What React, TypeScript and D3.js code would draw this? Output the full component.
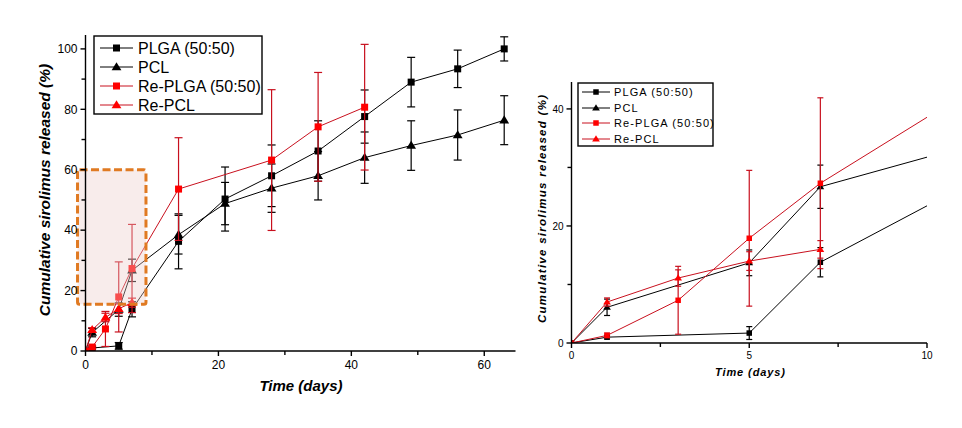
import React from "react";
import * as d3 from "d3";

// ---- data ----
const daysBase = [0, 1, 5, 7, 14, 21, 28, 35, 42, 49, 56, 63];
const plgaValues = [0, 1.0, 1.7, 13.8, 36.3, 50.3, 58.0, 66.2, 77.6, 89.0, 93.4, 100.0];
const plgaErrors = [0, 0.3, 1.1, 2.5, 9.1, 10.6, 10.2, 10.0, 8.8, 8.2, 6.2, 4.0];
const pclValues = [0, 6.1, 13.7, 26.7, 38.5, 48.8, 53.9, 58.0, 64.0, 68.0, 71.5, 76.4];
const pclErrors = [0, 1.4, 2.2, 3.7, 6.4, 7.0, 8.0, 8.0, 8.5, 8.2, 8.3, 8.1];

const daysRePlga = [0, 1, 3, 5, 7, 14, 28, 35, 42];
const rePlgaValues = [0, 1.3, 7.3, 17.9, 27.3, 53.6, 63.2, 74.2, 80.7];
const rePlgaErrors = [0, 0.4, 5.8, 11.6, 14.6, 17.0, 23.3, 18.0, 20.8];

const daysRePcl = [0, 1, 3, 5, 7];
const rePclValues = [0, 7.0, 11.1, 14.0, 16.0];
const rePclErrors = [0, 0.7, 1.4, 1.6, 1.5];

const seriesNames = ["PLGA (50:50)", "PCL", "Re-PLGA (50:50)", "Re-PCL"];

const leftXTicks = [0, 20, 40, 60];
const leftXMinor = [10, 30, 50];
const leftYTicks = [0, 20, 40, 60, 80, 100];
const leftYMinor = [10, 30, 50, 70, 90];
const rightXTicks = [0, 5, 10];
const rightXMinor = [2.5, 7.5];
const rightYTicks = [0, 20, 40];
const rightYMinor = [10, 30];

// highlighted region (days, %)
const zoomBoxDays = [-1.2, 9.1];
const zoomBoxPct = [15.5, 60];

const xTitle = "Time (days)";
const yTitle = "Cumulative sirolimus released (%)";

type Series = { name: string; x: number[]; y: number[]; e: number[]; shape: "square" | "triangle"; red: boolean };
const series: Series[] = [
  { name: seriesNames[0], x: daysBase, y: plgaValues, e: plgaErrors, shape: "square", red: false },
  { name: seriesNames[1], x: daysBase, y: pclValues, e: pclErrors, shape: "triangle", red: false },
  { name: seriesNames[2], x: daysRePlga, y: rePlgaValues, e: rePlgaErrors, shape: "square", red: true },
  { name: seriesNames[3], x: daysRePcl, y: rePclValues, e: rePclErrors, shape: "triangle", red: true },
];

const FONT = "'Liberation Sans', Arial, sans-serif";
const LINE_RED = "#c8101e";
const MARK_RED = "#ff0000";

function Marker({ shape, cx, cy, size, fill }: { shape: string; cx: number; cy: number; size: number; fill: string }) {
  if (shape === "square") {
    return <rect x={cx - size / 2} y={cy - size / 2} width={size} height={size} fill={fill} />;
  }
  const w = size * 1.4;
  const h = size * 1.15;
  const p = `M${cx},${cy - h * 0.6} L${cx + w / 2},${cy + h * 0.4} L${cx - w / 2},${cy + h * 0.4} Z`;
  return <path d={p} fill={fill} />;
}

type PanelCfg = {
  id: string;
  xDomain: [number, number];
  xRange: [number, number];
  yDomain: [number, number];
  yRange: [number, number];
  xTicks: number[];
  xMinor: number[];
  yTicks: number[];
  yMinor: number[];
  tickFont: number;
  markSize: number;
  cap: number;
  legend: { x: number; y: number; w: number; h: number; rows: number[]; lx0: number; lx1: number; tx: number; font: number; ls: number };
  xTitle: { x: number; y: number; font: number; len?: number };
  yTitle: { x: number; y: number; font: number; len?: number };
  box?: boolean;
};

function Panel({ cfg }: { cfg: PanelCfg }) {
  const x = d3.scaleLinear().domain(cfg.xDomain).range(cfg.xRange);
  const y = d3.scaleLinear().domain(cfg.yDomain).range(cfg.yRange);
  const [x0, x1] = cfg.xRange;
  const [y0, y1] = cfg.yRange; // y0 bottom, y1 top
  const line = d3
    .line<[number, number]>()
    .x((d) => x(d[0]))
    .y((d) => y(d[1]));
  const clipId = `clip-${cfg.id}`;
  const tickLen = 5;
  return (
    <g>
      <defs>
        <clipPath id={clipId}>
          <rect x={x0} y={y1} width={x1 - x0} height={y0 - y1} />
        </clipPath>
      </defs>
      {/* data */}
      {series.map((s, si) => {
        const pts: [number, number][] = s.x.map((d, i) => [d, s.y[i]]);
        const lc = s.red ? LINE_RED : "#000";
        const mc = s.red ? MARK_RED : "#000";
        return (
          <g key={si}>
            <g clipPath={`url(#${clipId})`}>
              <path d={line(pts) || ""} fill="none" stroke={lc} strokeWidth={1} />
            </g>
            {s.x.map((d, i) =>
              s.e[i] > 0 && d <= cfg.xDomain[1] ? (
                <g key={i} stroke={lc} strokeWidth={1.2}>
                  <line x1={x(d)} x2={x(d)} y1={y(s.y[i] - s.e[i])} y2={y(s.y[i] + s.e[i])} />
                  <line x1={x(d) - cfg.cap / 2} x2={x(d) + cfg.cap / 2} y1={y(s.y[i] + s.e[i])} y2={y(s.y[i] + s.e[i])} />
                  <line x1={x(d) - cfg.cap / 2} x2={x(d) + cfg.cap / 2} y1={y(s.y[i] - s.e[i])} y2={y(s.y[i] - s.e[i])} />
                </g>
              ) : null
            )}
            <g clipPath={`url(#${clipId})`}>
              {s.x.map((d, i) => (
                <Marker key={i} shape={s.shape} cx={x(d)} cy={y(s.y[i])} size={cfg.markSize} fill={mc} />
              ))}
            </g>
          </g>
        );
      })}
      {/* highlight box */}
      {cfg.box ? (
        <rect
          x={x(zoomBoxDays[0])}
          y={y(zoomBoxPct[1])}
          width={x(zoomBoxDays[1]) - x(zoomBoxDays[0])}
          height={y(zoomBoxPct[0]) - y(zoomBoxPct[1])}
          rx={2}
          fill="rgba(236,205,202,0.38)"
          stroke="#e07a22"
          strokeWidth={3}
          strokeDasharray="8,3.5"
        />
      ) : null}
      {/* axes */}
      <g stroke="#000" strokeWidth={1.4}>
        <line x1={x0} x2={x1} y1={y0} y2={y0} />
        <line x1={x0} x2={x0} y1={y0} y2={y1} />
        {cfg.xTicks.map((t) => (
          <line key={"xt" + t} x1={x(t)} x2={x(t)} y1={y0} y2={y0 + tickLen} />
        ))}
        {cfg.xMinor.map((t) => (
          <line key={"xm" + t} x1={x(t)} x2={x(t)} y1={y0} y2={y0 + tickLen - 1} />
        ))}
        {cfg.yTicks.map((t) => (
          <line key={"yt" + t} x1={x0 - tickLen} x2={x0} y1={y(t)} y2={y(t)} />
        ))}
        {cfg.yMinor.map((t) => (
          <line key={"ym" + t} x1={x0 - tickLen + 1} x2={x0} y1={y(t)} y2={y(t)} />
        ))}
      </g>
      <g fontFamily={FONT} fontSize={cfg.tickFont} fill="#000">
        {cfg.xTicks.map((t) => (
          <text key={"xl" + t} x={x(t)} y={y0 + tickLen + cfg.tickFont + 1} textAnchor="middle">
            {t}
          </text>
        ))}
        {cfg.yTicks.map((t) => (
          <text key={"yl" + t} x={x0 - tickLen - 3} y={y(t) + cfg.tickFont * 0.36} textAnchor="end">
            {t}
          </text>
        ))}
      </g>
      {/* titles */}
      <text
        x={cfg.xTitle.x}
        y={cfg.xTitle.y}
        textAnchor="middle"
        fontFamily={FONT}
        fontWeight="bold"
        fontStyle="italic"
        fontSize={cfg.xTitle.font}
        textLength={cfg.xTitle.len}
        lengthAdjust="spacing"
      >
        {xTitle}
      </text>
      <text
        transform={`translate(${cfg.yTitle.x},${cfg.yTitle.y}) rotate(-90)`}
        textAnchor="middle"
        fontFamily={FONT}
        fontWeight="bold"
        fontStyle="italic"
        fontSize={cfg.yTitle.font}
        textLength={cfg.yTitle.len}
        lengthAdjust="spacing"
      >
        {yTitle}
      </text>
      {/* legend */}
      <rect x={cfg.legend.x} y={cfg.legend.y} width={cfg.legend.w} height={cfg.legend.h} fill="#fff" stroke="#000" strokeWidth={1.4} />
      {series.map((s, i) => {
        const cy = cfg.legend.rows[i];
        const lc = s.red ? LINE_RED : "#000";
        const mc = s.red ? MARK_RED : "#000";
        return (
          <g key={"lg" + i}>
            <line x1={cfg.legend.lx0} x2={cfg.legend.lx1} y1={cy} y2={cy} stroke={lc} strokeWidth={1} />
            <Marker shape={s.shape} cx={(cfg.legend.lx0 + cfg.legend.lx1) / 2} cy={cy} size={cfg.markSize} fill={mc} />
            <text
              x={cfg.legend.tx}
              y={cy + cfg.legend.font * 0.36}
              fontFamily={FONT}
              fontSize={cfg.legend.font}
              letterSpacing={cfg.legend.ls}
            >
              {s.name}
            </text>
          </g>
        );
      })}
    </g>
  );
}

const leftCfg: PanelCfg = {
  id: "left",
  xDomain: [0, 64.7],
  xRange: [85.5, 515.5],
  yDomain: [0, 104.6],
  yRange: [351, 35],
  xTicks: leftXTicks,
  xMinor: leftXMinor,
  yTicks: leftYTicks,
  yMinor: leftYMinor,
  tickFont: 12,
  markSize: 7,
  cap: 8,
  legend: { x: 94, y: 36, w: 168, h: 78, rows: [48, 67, 86, 105], lx0: 100, lx1: 133, tx: 138, font: 16, ls: 0 },
  xTitle: { x: 301, y: 391, font: 15 },
  yTitle: { x: 50, y: 190, font: 15.5 },
  box: true,
};

const rightCfg: PanelCfg = {
  id: "right",
  xDomain: [0, 10],
  xRange: [571.5, 927],
  yDomain: [0, 44.6],
  yRange: [343, 82],
  xTicks: rightXTicks,
  xMinor: rightXMinor,
  yTicks: rightYTicks,
  yMinor: rightYMinor,
  tickFont: 10,
  markSize: 5.5,
  cap: 6,
  legend: { x: 578, y: 83, w: 135, h: 63, rows: [92, 108, 123, 139], lx0: 582, lx1: 610, tx: 614, font: 11, ls: 1.1 },
  xTitle: { x: 750, y: 376, font: 11, len: 70 },
  yTitle: { x: 546, y: 209, font: 11.5, len: 228 },
};

export default function App() {
  return (
    <svg width={962} height={428} style={{ position: "absolute", left: 0, top: 0, background: "#fff" }}>
      <rect x={0} y={0} width={962} height={428} fill="#fff" />
      <Panel cfg={leftCfg} />
      <Panel cfg={rightCfg} />
    </svg>
  );
}
